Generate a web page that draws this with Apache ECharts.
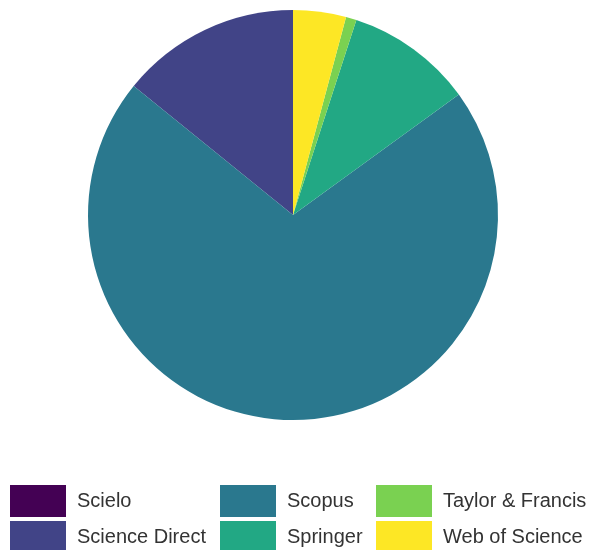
<!DOCTYPE html>
<html>
<head>
    <meta charset="utf-8">
    <script src="https://cdn.jsdelivr.net/npm/echarts@6/dist/echarts.min.js"></script>
</head>
<body style="margin:0">
<div style="width: 591px;height: 550px;" id="chart"></div>
<script>

let sources = ['Scielo', 'Science Direct', 'Scopus', 'Springer', 'Taylor & Francis', 'Web of Science'];
let counts = [0, 17, 85, 12, 1, 5];
let colors = ['#440154', '#414487', '#2a788e', '#22a884', '#7ad151', '#fde725'];

let chart = echarts.init(document.getElementById('chart'));

let data = sources.map((name, i) => ({name: name, value: counts[i]}));

// legend is laid out column by column, two rows each
let legendCols = [[0, 1], [2, 3], [4, 5]];
let legendLeft = [10, 220, 376];

let legends = legendCols.map((col, k) => ({
    orient: 'vertical',
    left: legendLeft[k],
    top: 485,
    height: 80,
    padding: 0,
    itemWidth: 56,
    itemHeight: 32,
    itemGap: 4,
    icon: 'rect',
    selectedMode: false,
    data: col.map(i => sources[i]),
    textStyle: {
        fontFamily: 'Liberation Sans, Arial, sans-serif',
        fontSize: 20,
        color: '#333333',
        padding: [0, 0, 0, 6]
    }
}));

let option = {
    color: colors,
    legend: legends,
    series: [{
        type: 'pie',
        center: [293, 215],
        radius: 205,
        startAngle: 90,
        clockwise: false,
        label: {show: false},
        labelLine: {show: false},
        emphasis: {disabled: true},
        itemStyle: {borderWidth: 0},
        data: data
    }]
};

chart.setOption(option);

</script>
</body>
</html>
